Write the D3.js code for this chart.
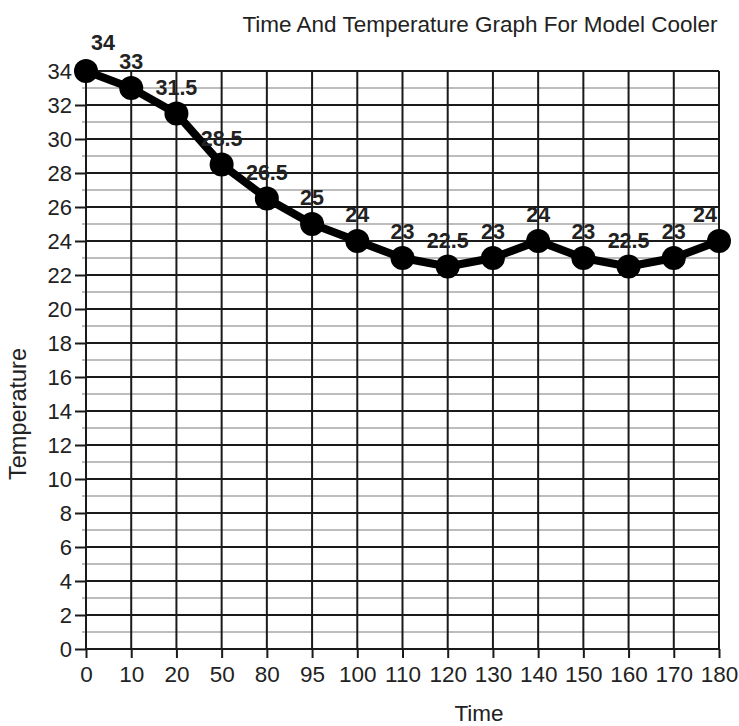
<!DOCTYPE html>
<html>
<head>
<meta charset="utf-8">
<script src="https://cdn.jsdelivr.net/npm/d3@7"></script>
<style>
  body { margin: 0; background: #fff; }
  text { font-family: "Liberation Sans", Arial, sans-serif; fill: #222; }
</style>
</head>
<body>
<svg id="chart" width="739" height="726"></svg>
<script>
const times = ['0', '10', '20', '50', '80', '95', '100', '110', '120', '130', '140', '150', '160', '170', '180'];
const temps = [34, 33, 31.5, 28.5, 26.5, 25, 24, 23, 22.5, 23, 24, 23, 22.5, 23, 24];
const yTicks = d3.range(0, 35, 2);
const yMinor = d3.range(1, 34, 2);

const margin = { top: 71, right: 20, bottom: 77, left: 86 };
const width = 739, height = 726;

const svg = d3.select('#chart');

const x = d3.scalePoint()
  .domain(times)
  .range([margin.left, width - margin.right]);

const y = d3.scaleLinear()
  .domain([0, 34])
  .range([height - margin.bottom, margin.top]);

// minor horizontal lines (odd values)
svg.append('g')
  .selectAll('line')
  .data(yMinor)
  .join('line')
  .attr('x1', margin.left - 4)
  .attr('x2', width - margin.right)
  .attr('y1', d => y(d))
  .attr('y2', d => y(d))
  .attr('stroke', '#bdbdbd')
  .attr('stroke-width', 2);

// major horizontal grid + y axis
const yAxis = svg.append('g')
  .attr('transform', `translate(${margin.left},0)`)
  .call(d3.axisLeft(y).tickValues(yTicks).tickSize(11).tickPadding(3));
yAxis.select('.domain').remove();
yAxis.selectAll('line').attr('stroke', '#1a1a1a').attr('stroke-width', 2);
yAxis.selectAll('text').style('font-size', '22px');

svg.append('g')
  .selectAll('line')
  .data(yTicks)
  .join('line')
  .attr('x1', margin.left)
  .attr('x2', width - margin.right)
  .attr('y1', d => y(d))
  .attr('y2', d => y(d))
  .attr('stroke', '#1a1a1a')
  .attr('stroke-width', 2);

// vertical grid + x axis
const xAxis = svg.append('g')
  .attr('transform', `translate(0,${y(0)})`)
  .call(d3.axisBottom(x).tickSize(9).tickPadding(8));
xAxis.select('.domain').remove();
xAxis.selectAll('line').attr('stroke', '#1a1a1a').attr('stroke-width', 2);
xAxis.selectAll('text').style('font-size', '22.5px');

svg.append('g')
  .selectAll('line')
  .data(times)
  .join('line')
  .attr('x1', d => x(d))
  .attr('x2', d => x(d))
  .attr('y1', y(34))
  .attr('y2', y(0))
  .attr('stroke', '#1a1a1a')
  .attr('stroke-width', 2);

// series
const pts = times.map((t, i) => ({ t, v: temps[i] }));

svg.append('path')
  .datum(pts)
  .attr('fill', 'none')
  .attr('stroke', '#000')
  .attr('stroke-width', 8)
  .attr('stroke-linejoin', 'round')
  .attr('d', d3.line().x(d => x(d.t)).y(d => y(d.v)));

svg.append('g')
  .selectAll('circle')
  .data(pts)
  .join('circle')
  .attr('cx', d => x(d.t))
  .attr('cy', d => y(d.v))
  .attr('r', 12)
  .attr('fill', '#000');

// value labels, nudged inward at the ends
svg.append('g')
  .selectAll('text')
  .data(pts)
  .join('text')
  .attr('x', (d, i) => x(d.t) + (i === 0 ? 17 : i === pts.length - 1 ? -14 : 0))
  .attr('y', (d, i) => y(d.v) - (i === 0 ? 21 : 19))
  .attr('text-anchor', 'middle')
  .style('font-size', '21.5px')
  .style('font-weight', 'bold')
  .text(d => d.v);

// titles
svg.append('text')
  .attr('x', 480)
  .attr('y', 32)
  .attr('text-anchor', 'middle')
  .style('font-size', '22.5px')
  .text('Time And Temperature Graph For Model Cooler');

svg.append('text')
  .attr('x', 479)
  .attr('y', 721)
  .attr('text-anchor', 'middle')
  .style('font-size', '22.5px')
  .text('Time');

svg.append('text')
  .attr('transform', 'translate(26,414) rotate(-90)')
  .attr('text-anchor', 'middle')
  .style('font-size', '23.5px')
  .text('Temperature');
</script>
</body>
</html>
